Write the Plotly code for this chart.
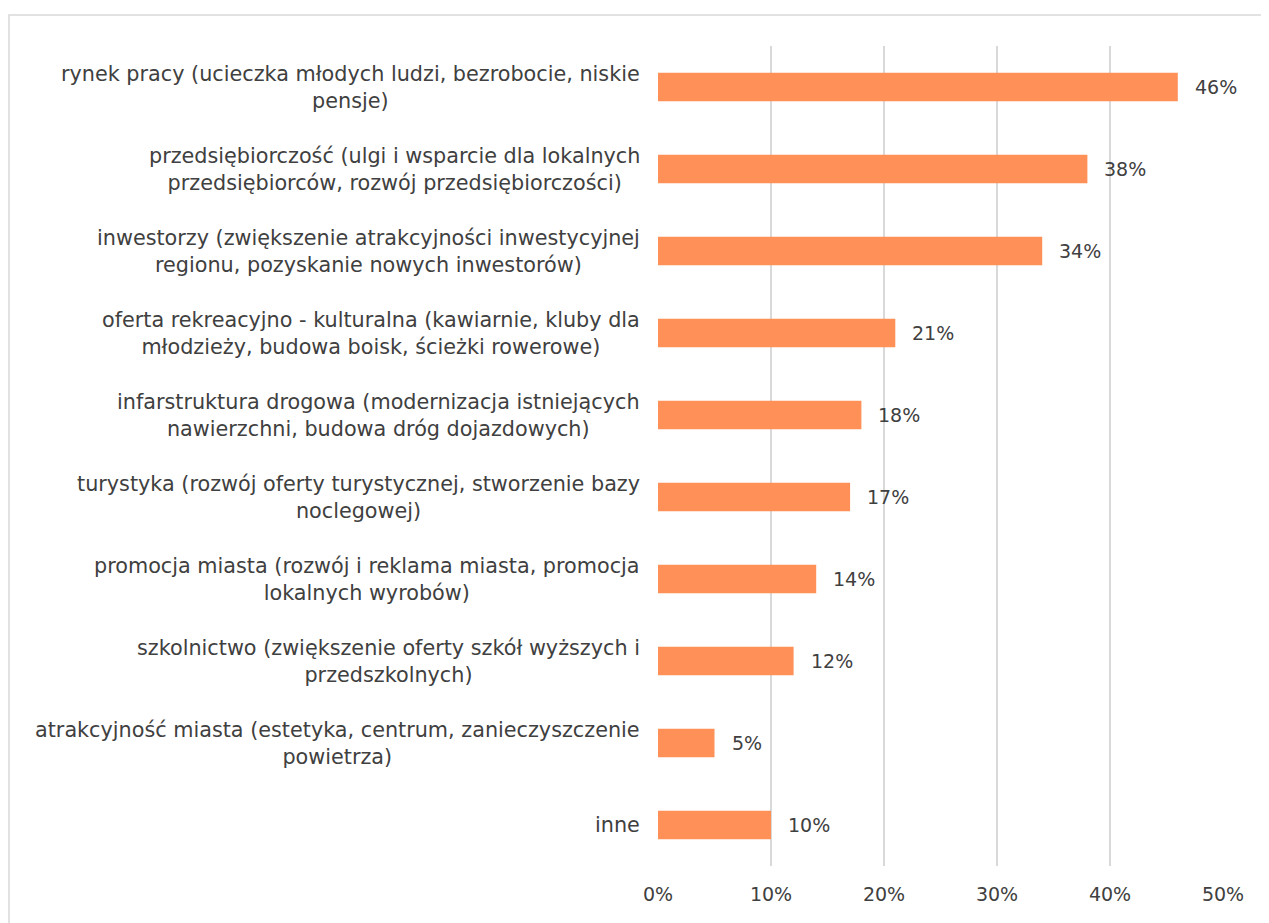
import plotly.graph_objects as go

categories = [
    "rynek pracy (ucieczka młodych ludzi, bezrobocie, niskie<br>pensje)",
    "przedsiębiorczość (ulgi i wsparcie dla lokalnych<br>przedsiębiorców, rozwój przedsiębiorczości)",
    "inwestorzy (zwiększenie atrakcyjności inwestycyjnej<br>regionu, pozyskanie nowych inwestorów)",
    "oferta rekreacyjno - kulturalna (kawiarnie, kluby dla<br>młodzieży, budowa boisk, ścieżki rowerowe)",
    "infarstruktura drogowa (modernizacja istniejących<br>nawierzchni, budowa dróg dojazdowych)",
    "turystyka (rozwój oferty turystycznej, stworzenie bazy<br>noclegowej)",
    "promocja miasta (rozwój i reklama miasta, promocja<br>lokalnych wyrobów)",
    "szkolnictwo (zwiększenie oferty szkół wyższych i<br>przedszkolnych)",
    "atrakcyjność miasta (estetyka, centrum, zanieczyszczenie<br>powietrza)",
    "inne",
]
values = [46, 38, 34, 21, 18, 17, 14, 12, 5, 10]
tick_vals = [0, 10, 20, 30, 40, 50]
tick_text = ["0%", "10%", "20%", "30%", "40%", "50%"]

FONT = "DejaVu Sans"
FS = 20.75
FS_NUM = 19
TXT = "#404040"
BAR = "#FF9158"
GRID = "#D9D9D9"

fig = go.Figure()
fig.add_trace(go.Bar(
    x=values,
    y=list(range(len(categories))),
    orientation="h",
    marker=dict(color=BAR, line=dict(width=0)),
    hoverinfo="skip",
))

annotations = []
for i, (cat, v) in enumerate(zip(categories, values)):
    annotations.append(dict(
        x=0, xref="paper", y=i, yref="y",
        text=cat, showarrow=False, xanchor="right", yanchor="middle",
        align="center", xshift=-16,
        font=dict(family=FONT, size=FS, color=TXT),
    ))
    annotations.append(dict(
        x=v, xref="x", y=i, yref="y",
        text=f"{v}%", showarrow=False, xanchor="left", yanchor="middle",
        xshift=15,
        font=dict(family=FONT, size=FS_NUM, color=TXT),
    ))

fig.update_layout(
    width=1261, height=915,
    margin=dict(l=650, r=46, t=38, b=57),
    paper_bgcolor="white", plot_bgcolor="white",
    bargap=0.65,
    showlegend=False,
    font=dict(family=FONT, size=FS_NUM, color=TXT),
    annotations=annotations,
    shapes=[dict(
        type="rect", xref="paper", yref="paper",
        x0=-1.1487, x1=1.2, y0=-0.2, y1=1.0378,
        line=dict(color=GRID, width=1.5), fillcolor="rgba(0,0,0,0)",
        layer="below",
    )],
    xaxis=dict(
        range=[0, 50], tickvals=tick_vals, ticktext=tick_text,
        showgrid=True, gridcolor=GRID, gridwidth=1.5,
        zeroline=False, showline=False, ticks="",
        ticklabelstandoff=15,
        tickfont=dict(family=FONT, size=FS_NUM, color=TXT),
        fixedrange=True,
    ),
    yaxis=dict(
        range=[len(categories) - 0.5, -0.5],
        showticklabels=False, showgrid=False, zeroline=False,
        showline=False, ticks="", fixedrange=True,
    ),
)

fig.write_html("out.html")
